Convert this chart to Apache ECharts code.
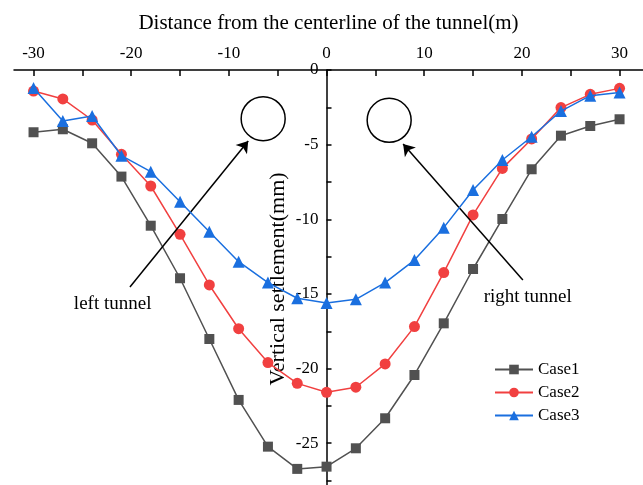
<!DOCTYPE html>
<html>
<head>
<meta charset="utf-8">
<script src="https://cdn.jsdelivr.net/npm/echarts@6/dist/echarts.min.js"></script>
<style>
  html, body { margin: 0; padding: 0; background: #fff; }
  #settlement-chart { width: 643px; height: 485px; }
</style>
</head>
<body>
<div id="settlement-chart"></div>
<script>
// distance from tunnel centerline (m)
const distance = [-30, -27, -24, -21, -18, -15, -12, -9, -6, -3, 0, 3, 6, 9, 12, 15, 18, 21, 24, 27, 30]
// vertical settlement (mm)
const case1 = [-4.17, -3.97, -4.91, -7.14, -10.43, -13.95, -18.02, -22.1, -25.23, -26.72, -26.57,
  -25.34, -23.33, -20.43, -16.97, -13.33, -9.98, -6.65, -4.4, -3.75, -3.3]
const case2 = [-1.41, -1.94, -3.35, -5.65, -7.77, -11.01, -14.4, -17.33, -19.6, -20.99, -21.59,
  -21.25, -19.69, -17.19, -13.57, -9.71, -6.59, -4.62, -2.52, -1.63, -1.23]
const case3 = [-1.2, -3.42, -3.08, -5.74, -6.81, -8.82, -10.83, -12.84, -14.24, -15.29, -15.6,
  -15.36, -14.24, -12.73, -10.56, -8.04, -6.03, -4.47, -2.75, -1.72, -1.5]

const xLabelTicks = [-30, -20, -10, 0, 10, 20, 30]
const xMinorTicks = [-30, -25, -20, -15, -10, -5, 0, 5, 10, 15, 20, 25, 30]
const yLabelTicks = [0, -5, -10, -15, -20, -25]
const yMinorTicks = [0, -2.5, -5, -7.5, -10, -12.5, -15, -17.5, -20, -22.5, -25, -27.5]

// annotation marks (data coords)
const tunnelCircles = [[-6.49, -3.26], [6.41, -3.37]]
const leftArrow = [[-20.13, -14.53], [-8.02, -4.76]]
const rightArrow = [[20.1, -14.07], [7.84, -4.96]]
const tunnelLabels = [
  { text: 'left tunnel', coord: [-21.9, -15.7] },
  { text: 'right tunnel', coord: [20.6, -15.2] }
]

const serif = 'Liberation Serif'
const colorArr = ['#515151', '#F14040', '#1A6FDF']

function pairs(ys) {
  return distance.map((x, i) => [x, ys[i]])
}

var myChart = echarts.init(document.getElementById('settlement-chart'))
var option = {
  animation: false,
  color: colorArr,
  textStyle: { fontFamily: serif },
  grid: { left: 14, right: 0, top: 70, bottom: -3, outerBoundsMode: 'none', containLabel: false },
  legend: {
    data: ['Case1', 'Case2', 'Case3'],
    orient: 'vertical',
    left: 489,
    top: 356,
    itemWidth: 38,
    itemHeight: 12,
    itemGap: 6,
    textStyle: { fontFamily: serif, fontSize: 17, color: '#000' }
  },
  xAxis: {
    type: 'value',
    position: 'top',
    min: -32,
    max: 32.4,
    name: 'Distance from the centerline of the tunnel(m)',
    nameLocation: 'middle',
    nameGap: 36,
    nameMoveOverlap: false,
    nameTextStyle: { fontFamily: serif, fontSize: 21, color: '#000' },
    axisLine: { onZero: false, lineStyle: { color: '#000', width: 1.5 } },
    axisTick: { show: true, inside: true, length: 6, customValues: xMinorTicks, lineStyle: { color: '#000', width: 1.5 } },
    axisLabel: { customValues: xLabelTicks, fontFamily: serif, fontSize: 17, color: '#000', margin: 8 },
    splitLine: { show: false }
  },
  yAxis: {
    type: 'value',
    min: -28,
    max: 0,
    // the axis sits on x = 0, so shift it right from the grid's left edge
    offset: -312.5,
    name: 'Vertical settlement(mm)',
    nameLocation: 'middle',
    nameRotate: 90,
    nameGap: 37,
    nameMoveOverlap: false,
    nameTextStyle: { fontFamily: serif, fontSize: 22, color: '#000' },
    axisLine: { show: true, onZero: false, lineStyle: { color: '#000', width: 1.5 } },
    axisTick: { show: true, inside: true, length: 5, customValues: yMinorTicks, lineStyle: { color: '#000', width: 1.5 } },
    axisLabel: { customValues: yLabelTicks, fontFamily: serif, fontSize: 17, color: '#000', margin: 8 },
    splitLine: { show: false }
  },
  series: [
    {
      name: 'Case1',
      type: 'line',
      data: pairs(case1),
      symbol: 'rect',
      symbolSize: 10,
      lineStyle: { width: 1.5 },
      z: 3,
      markLine: {
        silent: true,
        symbol: ['none', 'arrow'],
        symbolSize: 11,
        label: { show: false },
        lineStyle: { color: '#000', width: 1.5, type: 'solid' },
        data: [
          [{ coord: leftArrow[0] }, { coord: leftArrow[1] }],
          [{ coord: rightArrow[0] }, { coord: rightArrow[1] }]
        ]
      },
      markPoint: {
        silent: true,
        data: tunnelCircles.map(c => ({
          coord: c,
          symbol: 'circle',
          symbolSize: 44,
          itemStyle: { color: 'rgba(0,0,0,0)', borderColor: '#000', borderWidth: 1.5 },
          label: { show: false }
        })).concat(tunnelLabels.map(t => ({
          coord: t.coord,
          symbol: 'circle',
          symbolSize: 1,
          itemStyle: { color: 'rgba(0,0,0,0)' },
          label: { show: true, position: 'inside', formatter: t.text, fontFamily: serif, fontSize: 19, color: '#000' }
        })))
      }
    },
    {
      name: 'Case2',
      type: 'line',
      data: pairs(case2),
      symbol: 'circle',
      symbolSize: 11,
      lineStyle: { width: 1.5 },
      z: 4
    },
    {
      name: 'Case3',
      type: 'line',
      data: pairs(case3),
      symbol: 'triangle',
      symbolSize: 12,
      lineStyle: { width: 1.5 },
      z: 5
    }
  ]
}
myChart.setOption(option)
</script>
</body>
</html>
